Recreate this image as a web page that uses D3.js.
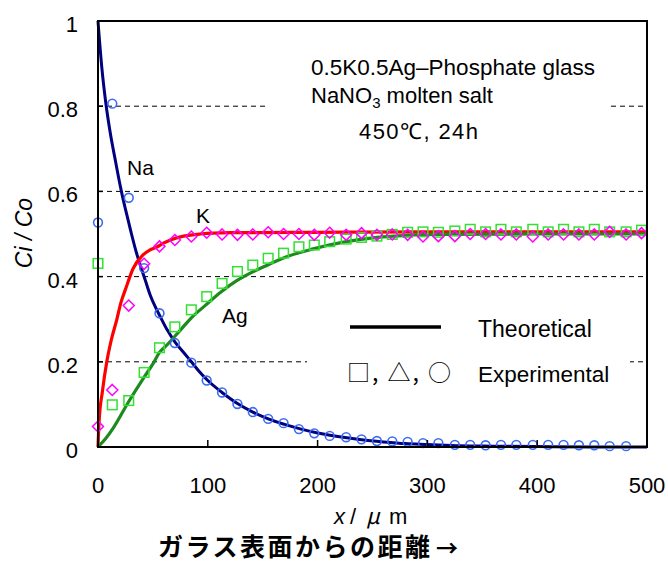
<!DOCTYPE html>
<html>
<head>
<meta charset="utf-8">
<script src="https://cdn.jsdelivr.net/npm/d3@7"></script>
<style>
  html, body { margin: 0; padding: 0; background: #fff; }
  svg { display: block; }
  text { font-family: "Liberation Sans", Arial, sans-serif; fill: #000; }
  .cjk { font-family: "Noto Sans CJK JP", sans-serif; }
</style>
</head>
<body>
<svg id="chart" width="668" height="563"></svg>
<script>
// ---------------- DATA ----------------
const xTicks = [0, 100, 200, 300, 400, 500];
const xTickLabels = ["0", "100", "200", "300", "400", "500"];
const yTicks = [0, 0.2, 0.4, 0.6, 0.8, 1];
const yTickLabels = ["0", "0.2", "0.4", "0.6", "0.8", "1"];

// Experimental sampling positions (µm)
const expX = [0, 13, 28, 42, 56, 70, 85, 99, 113, 127, 141, 155, 169, 183, 197, 211, 226, 240,
              254, 268, 282, 296, 310, 325, 339, 353, 367, 381, 396, 410, 424, 438, 452, 466, 481, 495];
// Na experimental (circles) – no point at 495
const naExp = [0.527, 0.806, 0.585, 0.42, 0.314, 0.244, 0.198, 0.156, 0.128, 0.101, 0.082, 0.066,
               0.056, 0.042, 0.032, 0.026, 0.023, 0.018, 0.014, 0.013, 0.012, 0.009, 0.009, 0.005,
               0.005, 0.004, 0.005, 0.005, 0.005, 0.005, 0.005, 0.004, 0.004, 0.002, 0.002];
// K experimental (diamonds)
const kExp = [0.048, 0.134, 0.332, 0.43, 0.471, 0.486, 0.494, 0.503, 0.499, 0.498, 0.499, 0.504,
              0.500, 0.500, 0.498, 0.503, 0.498, 0.502, 0.498, 0.499, 0.498, 0.494, 0.495, 0.495,
              0.500, 0.500, 0.499, 0.499, 0.494, 0.499, 0.499, 0.499, 0.499, 0.505, 0.499, 0.502];
// Ag experimental (squares)
const agExp = [0.431, 0.099, 0.109, 0.175, 0.233, 0.282, 0.322, 0.353, 0.384, 0.412, 0.427, 0.443,
               0.455, 0.470, 0.474, 0.482, 0.488, 0.492, 0.495, 0.499, 0.504, 0.505, 0.504, 0.507,
               0.511, 0.505, 0.511, 0.505, 0.511, 0.505, 0.511, 0.505, 0.511, 0.505, 0.505, 0.509];

// Theoretical curves
const naTheoX = [0, 3.5, 7, 11, 16, 20.5, 23, 26, 30.5, 35, 39, 43, 47.5, 52, 56.5, 63, 70, 78, 85, 92,
                 100, 113, 127, 141, 155, 170, 185, 200, 220, 240, 260, 280, 300, 330, 360, 400, 450, 500];
const naTheoY = [1, 0.89, 0.81, 0.74, 0.67, 0.61, 0.58, 0.548, 0.5, 0.456, 0.423, 0.392, 0.357, 0.33, 0.307,
                 0.275, 0.247, 0.222, 0.2, 0.178, 0.156, 0.128, 0.102, 0.082, 0.066, 0.053, 0.042, 0.033,
                 0.024, 0.017, 0.012, 0.008, 0.006, 0.003, 0.002, 0.001, 0, 0];
const kTheoX = [0, 1, 4, 8, 12, 17, 21, 25, 32, 41, 47, 54, 60, 66, 78, 93, 120, 200, 300, 400, 500];
const kTheoY = [0, 0.06, 0.13, 0.2, 0.25, 0.298, 0.34, 0.37, 0.419, 0.451, 0.462, 0.47, 0.479, 0.486,
                0.495, 0.5, 0.503, 0.504, 0.505, 0.505, 0.505];
const agTheoX = [0, 7, 14, 27.6, 41, 50, 56, 63, 70, 78, 85, 98, 112, 126, 140, 155, 170, 196, 226, 254,
                 281, 310, 400, 500];
const agTheoY = [0, 0.02, 0.045, 0.105, 0.16, 0.195, 0.222, 0.24, 0.26, 0.283, 0.303, 0.333, 0.364,
                 0.39, 0.41, 0.428, 0.445, 0.465, 0.482, 0.492, 0.497, 0.499, 0.5, 0.5];

// x-axis title pieces
const xTitleParts = ["x", "/", "μ", "m"];

// ---------------- CHART ----------------
const svg = d3.select("#chart");
const x = d3.scaleLinear().domain([0, 500]).range([98, 647]);
const y = d3.scaleLinear().domain([0, 1]).range([447, 21]);

// gridlines
svg.append("g").selectAll("line")
  .data(yTicks.filter(v => v > 0 && v < 1))
  .join("line")
  .attr("x1", x(0)).attr("x2", x(500))
  .attr("y1", d => y(d)).attr("y2", d => y(d))
  .attr("stroke", "#000").attr("stroke-width", 1)
  .attr("stroke-dasharray", "5,4");

// white boxes behind annotation and legend
svg.append("rect").attr("x", 265).attr("y", 45).attr("width", 346).attr("height", 105).attr("fill", "#fff");
svg.append("rect").attr("x", 307).attr("y", 300).attr("width", 323).attr("height", 100).attr("fill", "#fff");

// theoretical lines
const line = d3.line().x(d => x(d[0])).y(d => y(d[1])).curve(d3.curveMonotoneX);
const zip = (a, b) => a.map((v, i) => [v, b[i]]);
svg.append("path").attr("d", line(zip(naTheoX, naTheoY)))
  .attr("fill", "none").attr("stroke", "#000080").attr("stroke-width", 3);
svg.append("path").attr("d", line(zip(kTheoX, kTheoY)))
  .attr("fill", "none").attr("stroke", "#ff0000").attr("stroke-width", 3.2);
svg.append("path").attr("d", line(zip(agTheoX, agTheoY)))
  .attr("fill", "none").attr("stroke", "#1e8a1e").attr("stroke-width", 3.2);

// experimental markers
svg.append("g").selectAll("circle")
  .data(zip(expX.slice(0, naExp.length), naExp))
  .join("circle")
  .attr("cx", d => x(d[0])).attr("cy", d => y(d[1])).attr("r", 4.4)
  .attr("fill", "none").attr("stroke", "#3a6cf0").attr("stroke-width", 1.6);

svg.append("g").selectAll("rect")
  .data(zip(expX, agExp))
  .join("rect")
  .attr("x", d => x(d[0]) - 4.8).attr("y", d => y(d[1]) - 4.8)
  .attr("width", 9.6).attr("height", 9.6)
  .attr("fill", "none").attr("stroke", "#33e033").attr("stroke-width", 1.5);

const dS = 5.5;
svg.append("g").selectAll("path")
  .data(zip(expX, kExp))
  .join("path")
  .attr("d", d => {
    const cx = x(d[0]), cy = y(d[1]);
    return `M${cx},${cy - dS}L${cx + dS},${cy}L${cx},${cy + dS}L${cx - dS},${cy}Z`;
  })
  .attr("fill", "none").attr("stroke", "#ff00ff").attr("stroke-width", 1.5);

// frame
svg.append("rect").attr("x", x(0)).attr("y", y(1))
  .attr("width", x(500) - x(0)).attr("height", y(0) - y(1))
  .attr("fill", "none").attr("stroke", "#000").attr("stroke-width", 2);

// ticks (inward)
svg.append("g").selectAll("line")
  .data(xTicks.filter(v => v > 0 && v < 500))
  .join("line")
  .attr("x1", d => x(d)).attr("x2", d => x(d))
  .attr("y1", y(0)).attr("y2", y(0) - 7)
  .attr("stroke", "#000").attr("stroke-width", 1.5);
svg.append("g").selectAll("line")
  .data(yTicks.filter(v => v > 0 && v < 1))
  .join("line")
  .attr("x1", x(0)).attr("x2", x(0) + 5)
  .attr("y1", d => y(d)).attr("y2", d => y(d))
  .attr("stroke", "#000").attr("stroke-width", 1.5);

// tick labels
svg.append("g").selectAll("text")
  .data(xTicks)
  .join("text")
  .attr("x", d => x(d)).attr("y", 493)
  .attr("text-anchor", "middle").attr("font-size", 22)
  .text((d, i) => xTickLabels[i]);
svg.append("g").selectAll("text")
  .data(yTicks)
  .join("text")
  .attr("x", 78).attr("y", d => y(d) + 11)
  .attr("text-anchor", "end").attr("font-size", 22)
  .text((d, i) => yTickLabels[i]);

// axis titles
svg.append("text")
  .attr("transform", "translate(32,233) rotate(-90)")
  .attr("text-anchor", "middle").attr("font-size", 23).attr("font-style", "italic")
  .text("Ci / Co");

const xPartX = [334, 350, 366, 389];
const xPartItalic = [true, false, true, false];
svg.append("g").selectAll("text")
  .data(xTitleParts)
  .join("text")
  .attr("x", (d, i) => xPartX[i]).attr("y", 524)
  .attr("font-size", 22)
  .attr("class", (d, i) => i === 2 ? "cjk" : null)
  .attr("font-style", (d, i) => xPartItalic[i] ? "italic" : "normal")
  .text(d => d);

svg.append("text").attr("class", "cjk")
  .attr("x", 158).attr("y", 556)
  .attr("font-size", 25).attr("font-weight", "bold")
  .attr("textLength", 272).attr("lengthAdjust", "spacing")
  .text("ガラス表面からの距離");
svg.append("text").attr("class", "cjk")
  .attr("x", 436).attr("y", 556)
  .attr("font-size", 22).attr("font-weight", "bold")
  .text("→");

// annotation
svg.append("text").attr("x", 311).attr("y", 75).attr("font-size", 22.5)
  .text("0.5K0.5Ag–Phosphate glass");
const t2 = svg.append("text").attr("x", 311).attr("y", 103).attr("font-size", 22);
t2.append("tspan").text("NaNO");
t2.append("tspan").attr("font-size", 15).attr("dy", 5).text("3");
t2.append("tspan").attr("dy", -5).text(" molten salt");
svg.append("text").attr("x", 359).attr("y", 139).attr("font-size", 22)
  .attr("textLength", 119).attr("lengthAdjust", "spacing")
  .text("450℃, 24h");

// series labels
svg.append("text").attr("x", 127).attr("y", 175).attr("font-size", 21).text("Na");
svg.append("text").attr("x", 196).attr("y", 223).attr("font-size", 21).text("K");
svg.append("text").attr("x", 222).attr("y", 323).attr("font-size", 21).text("Ag");

// legend
svg.append("line").attr("x1", 350).attr("x2", 441).attr("y1", 327).attr("y2", 327)
  .attr("stroke", "#000").attr("stroke-width", 3.5);
svg.append("text").attr("x", 478).attr("y", 337).attr("font-size", 23).text("Theoretical");
svg.append("text").attr("class", "cjk").attr("x", 347).attr("y", 381).attr("font-size", 23)
  .attr("textLength", 104).attr("lengthAdjust", "spacing")
  .text("□, △, ○");
svg.append("text").attr("x", 478).attr("y", 382).attr("font-size", 22.5).text("Experimental");
</script>
</body>
</html>
